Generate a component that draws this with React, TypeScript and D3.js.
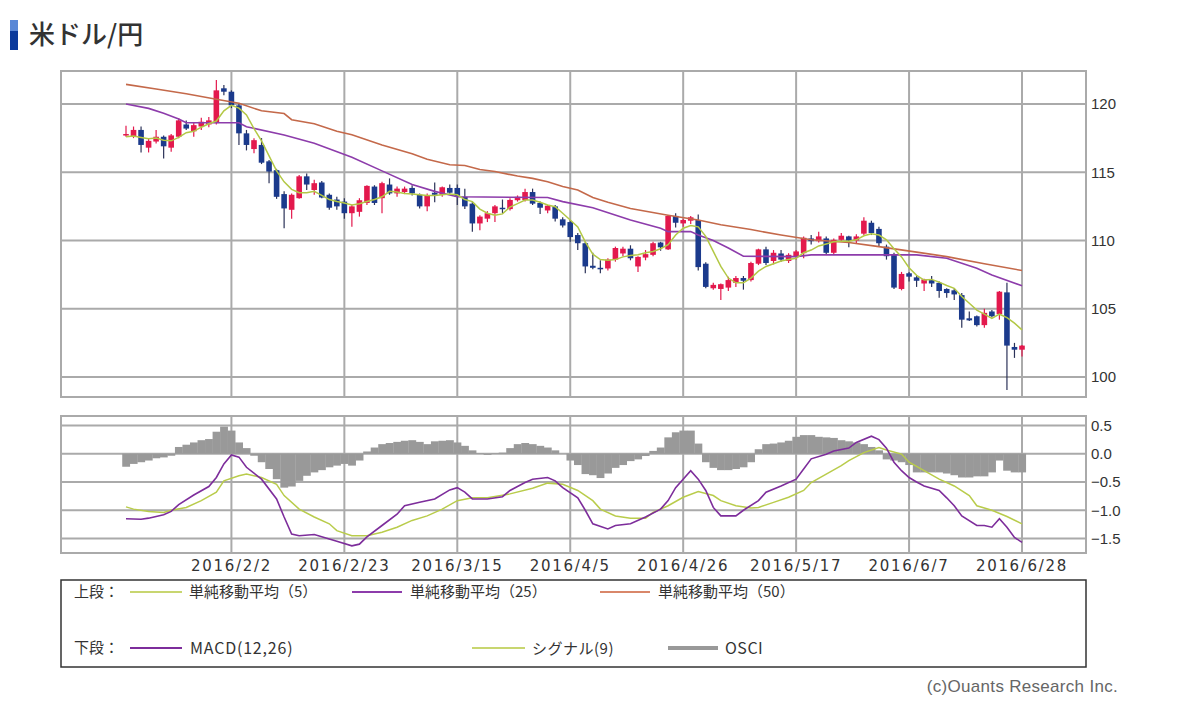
import React from "react";
import * as d3 from "d3";

// USD/JPY daily candles, 2016/1/13 - 2016/6/28 (weekdays)
const opens = [117.7,117.6,118.1,116.8,117.25,117.6,116.8,117.6,118.5,118.0, 118.35,118.5,118.6,121.15,120.9,119.9,117.85,116.7,117.0,115.8, 115.15,113.4,112.25,113.1,114.7,113.7,114.25,113.35,113.0,112.85, 112.0,112.1,112.75,113.95,113.1,114.1,113.45,113.55,113.85,113.35, 112.5,113.5,113.35,113.85,113.85,113.2,112.7,111.25,111.6,112.0, 112.4,112.3,112.95,112.97,113.55,112.75,112.2,112.5,111.55,111.35, 110.4,109.8,108.15,108.0,107.95,108.6,109.05,109.4,108.1,108.75, 108.95,109.85,109.35,111.8,111.25,111.45,111.5,108.3,106.5,106.45, 106.55,106.9,107.25,107.1,108.3,109.35,108.5,109.05,108.5,108.85, 109.07,110.15,109.95,110.15,109.1,110.05,110.3,110.0,110.5,111.3, 110.85,109.55,109.0,106.45,107.6,107.3,106.85,107.1,106.9,106.45, 106.35,106.0,104.3,104.45,103.8,104.8,104.6,106.2,102.2,102.0];
const highs = [118.4,118.35,118.35,117.5,118.1,117.7,117.8,118.95,118.8,118.6, 119.0,119.05,121.75,121.4,121.0,120.05,118.1,117.5,117.5,115.9, 115.25,113.6,113.45,114.8,114.9,114.45,114.35,113.45,113.2,113.1, 112.6,113.1,114.05,114.05,114.3,114.55,113.95,113.95,114.05,113.45, 113.45,114.25,113.95,114.1,114.1,113.8,112.85,111.85,112.15,112.6, 113.0,113.1,113.3,113.8,113.8,112.85,112.6,112.6,111.7,111.5, 110.55,109.9,109.1,108.55,108.7,109.55,109.55,109.65,108.85,109.3, 109.9,109.9,111.85,112.0,111.6,111.8,111.9,108.4,106.9,106.85, 107.35,107.4,107.4,108.45,109.4,109.55,109.3,109.3,109.07,109.3, 110.3,110.4,110.65,110.3,110.15,110.55,110.35,110.45,111.7,111.45, 111.0,109.7,109.1,107.7,107.7,107.4,107.2,107.4,107.0,106.5, 106.5,106.15,104.8,104.5,105.0,104.9,106.3,106.9,102.5,102.35];
const lows = [117.6,117.5,116.45,116.45,117.1,116.0,116.5,117.5,118.1,117.6, 118.1,118.3,118.5,120.65,119.7,117.0,116.6,116.4,115.6,114.2, 113.05,110.9,111.6,113.05,113.7,113.35,113.1,112.25,112.25,111.6, 111.0,111.75,112.6,112.6,112.0,113.35,113.2,113.4,113.3,112.35, 112.15,112.8,113.2,113.4,112.6,112.3,110.65,110.75,111.35,111.35, 112.0,112.2,112.85,112.85,112.6,111.95,112.0,111.4,110.95,109.9, 109.3,107.6,107.9,107.6,107.8,108.45,108.85,108.55,107.7,108.55, 108.85,109.25,109.3,110.95,111.0,111.2,107.8,106.5,106.4,105.65, 106.3,106.6,106.4,107.0,108.2,108.2,108.25,108.45,108.35,108.6, 108.7,109.7,109.85,108.95,108.95,109.95,109.5,109.75,110.4,110.4, 109.6,108.6,106.45,106.35,107.0,106.6,106.3,106.6,105.8,105.8, 105.65,103.6,104.1,103.7,103.6,104.35,104.2,99.05,101.4,101.5];
const closes = [117.8,118.1,117.0,117.3,117.6,116.9,117.7,118.8,118.2,118.45, 118.7,118.8,121.0,120.9,119.9,117.85,117.0,117.35,115.7,115.05, 113.2,112.35,113.35,114.7,114.1,114.2,113.15,112.4,112.5,112.0, 112.5,112.95,114.0,112.75,114.2,113.45,113.8,113.8,113.45,112.5, 113.3,113.35,113.9,113.5,113.2,112.5,111.25,111.75,112.0,112.5, 112.3,112.97,113.2,113.55,112.7,112.4,112.55,111.6,111.1,110.25, 109.8,108.1,108.0,107.95,108.6,109.45,109.4,108.7,108.8,109.0, 109.8,109.5,111.8,111.3,111.5,111.7,108.05,106.6,106.75,106.8, 107.1,107.25,107.05,108.35,109.35,108.35,109.1,108.6,108.95,109.2, 110.2,109.95,110.3,109.1,110.05,110.35,110.0,110.3,111.45,110.55, 109.8,108.85,106.55,107.55,107.35,107.05,107.15,106.85,106.3,106.15, 106.05,104.2,104.15,103.8,104.7,104.45,106.25,102.3,102.0,102.3];

// moving averages (upper panel)
const ma5 = [117.6,117.65,117.55,117.45,117.5,117.35,117.3,117.55,117.9,118.0, 118.3,118.55,118.75,119.5,119.9,119.7,119.2,118.2,117.3,116.2, 115.1,114.3,113.75,113.5,113.5,113.6,113.3,113.0,112.85,112.75, 112.6,112.7,112.85,113.0,113.2,113.6,113.55,113.45,113.4,113.35, 113.3,113.3,113.35,113.4,113.35,113.0,112.85,112.3,112.0,111.85, 111.95,112.45,112.7,112.97,112.97,112.8,112.6,112.48,112.0,111.5, 111.0,109.9,109.0,108.6,108.55,108.6,108.8,108.9,108.95,109.1, 109.2,109.4,109.7,110.4,110.9,111.1,111.0,110.3,109.2,108.1, 107.25,106.9,106.9,107.25,107.75,108.1,108.3,108.5,108.6,108.7, 109.1,109.3,109.6,109.75,109.9,109.95,109.95,110.05,110.35,110.5, 110.4,110.05,109.4,108.8,108.0,107.45,107.1,107.15,106.95,106.7, 106.5,105.9,105.4,104.9,104.6,104.3,104.6,104.35,103.95,103.45];
const ma25Idx = [0,3,5,7,8,15,16,21,25,30,34,38,41,44,56,58,62,67,71,72,75,76,78,80,82,89,91,105,109,111,113,115,119];
const ma25Val = [120.0,119.68,119.32,118.9,118.63,118.63,118.34,117.73,117.12,116.1,115.1,114.1,113.6,113.2,113.15,112.85,112.4,111.5,110.9,110.65,110.65,110.4,110.0,109.45,108.85,108.82,108.95,108.95,108.7,108.34,107.97,107.48,106.68];
const ma50Idx = [0,4,8,12,15,18,21,22,25,28,30,34,38,40,43,45,47,49,52,54,56,58,60,62,64,67,72,76,79,83,87,91,96,100,105,109,114,119];
const ma50Val = [121.44,121.1,120.75,120.35,120.05,119.5,119.3,118.85,118.55,118.0,117.75,117.0,116.35,115.95,115.55,115.5,115.2,115.05,114.72,114.55,114.3,113.95,113.7,113.15,112.8,112.35,111.85,111.5,111.15,110.8,110.4,110.05,109.85,109.55,109.15,108.82,108.3,107.8];

// MACD panel
const macdIdx = [0,2,3,5,6,7,9,11,12,13,14,15,16,18,20,21,22,23,25,27,28,30,31,32,34,36,37,39,41,43,44,45,46,48,50,51,53,54,56,57,58,60,61,62,64,65,67,69,71,72,73,75,76,77,78,79,81,82,84,85,87,89,90,91,93,94,96,97,99,100,101,102,103,104,105,106,108,109,110,111,113,114,115,116,117,118,119];
const macdVal = [-1.15,-1.16,-1.14,-1.08,-1.02,-0.9,-0.73,-0.58,-0.42,-0.18,-0.02,-0.06,-0.24,-0.45,-0.8,-1.12,-1.42,-1.45,-1.43,-1.51,-1.55,-1.63,-1.6,-1.47,-1.27,-1.07,-0.92,-0.86,-0.8,-0.64,-0.6,-0.68,-0.8,-0.8,-0.76,-0.65,-0.51,-0.45,-0.42,-0.48,-0.6,-0.78,-1.0,-1.24,-1.33,-1.27,-1.24,-1.12,-0.98,-0.83,-0.6,-0.3,-0.45,-0.65,-0.95,-1.1,-1.1,-1.0,-0.83,-0.68,-0.57,-0.45,-0.27,-0.09,-0.01,0.05,0.1,0.2,0.31,0.25,0.1,-0.15,-0.3,-0.42,-0.5,-0.57,-0.65,-0.78,-0.92,-1.1,-1.27,-1.27,-1.3,-1.15,-1.3,-1.48,-1.57];
const signalIdx = [0,1,3,5,6,8,10,12,13,15,16,18,20,21,23,25,27,28,30,32,34,36,38,40,42,44,46,48,51,54,56,58,60,62,63,65,67,69,70,72,74,76,78,79,81,83,84,86,88,90,91,93,95,96,98,100,101,103,104,106,108,110,112,113,115,117,119];
const signalVal = [-0.94,-0.98,-1.02,-1.04,-1.0,-0.95,-0.83,-0.68,-0.48,-0.39,-0.36,-0.42,-0.54,-0.74,-0.98,-1.12,-1.24,-1.36,-1.45,-1.45,-1.39,-1.3,-1.18,-1.1,-0.98,-0.83,-0.78,-0.78,-0.71,-0.61,-0.52,-0.54,-0.65,-0.83,-0.98,-1.1,-1.14,-1.14,-1.04,-0.92,-0.77,-0.67,-0.74,-0.83,-0.92,-0.96,-0.95,-0.86,-0.77,-0.65,-0.51,-0.36,-0.21,-0.12,0.02,0.11,0.065,-0.006,-0.15,-0.3,-0.45,-0.57,-0.74,-0.92,-1.0,-1.11,-1.24];
const osci = [-0.23,-0.18,-0.15,-0.12,-0.08,-0.065,-0.035,0.12,0.16,0.2, 0.24,0.26,0.39,0.48,0.41,0.2,0.1,-0.035,-0.15,-0.27, -0.45,-0.6,-0.58,-0.48,-0.39,-0.33,-0.29,-0.24,-0.21,-0.18, -0.21,-0.12,0.04,0.11,0.17,0.19,0.21,0.23,0.24,0.21, 0.17,0.22,0.23,0.24,0.2,0.14,0.06,0.01,-0.02,0.01, 0.02,0.1,0.17,0.19,0.17,0.14,0.11,0.06,0.0,-0.12, -0.2,-0.36,-0.38,-0.43,-0.35,-0.25,-0.2,-0.13,-0.1,-0.04, 0.05,0.11,0.29,0.38,0.41,0.41,0.18,-0.15,-0.25,-0.29, -0.29,-0.27,-0.24,-0.15,0.08,0.17,0.18,0.2,0.23,0.3, 0.33,0.33,0.3,0.29,0.28,0.24,0.22,0.2,0.17,0.12, 0.06,-0.1,-0.12,-0.15,-0.2,-0.33,-0.33,-0.33,-0.33,-0.35, -0.38,-0.42,-0.42,-0.4,-0.4,-0.33,-0.12,-0.3,-0.33,-0.33];

const tickLabels = ["2016/2/2", "2016/2/23", "2016/3/15", "2016/4/5", "2016/4/26", "2016/5/17", "2016/6/7", "2016/6/28"];
const priceTicks = [100, 105, 110, 115, 120];
const macdTicks = [0.5, 0, -0.5, -1, -1.5];

const dates = d3.timeDay
  .range(new Date(2016, 0, 13), new Date(2016, 5, 29))
  .filter(d => d.getDay() !== 0 && d.getDay() !== 6);
const fmt = d3.timeFormat("%Y/%-m/%-d");

const up = { left: 61, right: 1086, top: 71, bottom: 397 };
const lo = { left: 61, right: 1086, top: 416, bottom: 553 };
const gridColor = "#aaaaaa";
const colUp = "#e3194d";
const colDown = "#1b3a8c";

export default function App() {
  const x = d3.scaleLinear().domain([0, dates.length - 1]).range([126, 1022]);
  const step = x(1) - x(0);
  const yP = d3.scaleLinear().domain([100, 120]).range([377, 104]);
  const yM = d3.scaleLinear().domain([-1.5, 0.5]).range([538.5, 425.5]);
  const tickIdx = dates.map((d, i) => (tickLabels.includes(fmt(d)) ? i : -1)).filter(i => i >= 0);

  const pLine = d3.line<[number, number]>().x(d => x(d[0])).y(d => yP(d[1]));
  const mLine = d3.line<[number, number]>().x(d => x(d[0])).y(d => yM(d[1]));
  const zip = (idx: number[], val: number[]) => idx.map((k, j) => [k, val[j]] as [number, number]);

  const font = "'Liberation Sans', Arial, sans-serif";
  const jp = "'Noto Sans CJK JP', sans-serif";

  return (
    <svg width={1200} height={702} style={{ position: "absolute", left: 0, top: 0, background: "#fff" }}>
      {/* title */}
      <rect x={10} y={20} width={8} height={11} fill="#5a88d6" />
      <rect x={10} y={31} width={8} height={19} fill="#0b3a9c" />
      <text x={29} y={44} fontFamily={jp} fontSize={26} fontWeight={500} fill="#333">米ドル/円</text>

      {/* upper panel grid */}
      <rect x={up.left} y={up.top} width={up.right - up.left} height={up.bottom - up.top} fill="#fff" />
      {priceTicks.map(t => (
        <g key={"p" + t}>
          <line x1={up.left} x2={up.right} y1={yP(t)} y2={yP(t)} stroke={gridColor} strokeWidth={2} />
          <text x={1091} y={yP(t)} dy="0.36em" fontFamily={font} fontSize={15} fill="#333">{t}</text>
        </g>
      ))}
      {tickIdx.map(i => (
        <line key={"vu" + i} x1={x(i)} x2={x(i)} y1={up.top} y2={up.bottom} stroke={gridColor} strokeWidth={2} />
      ))}

      {/* candles */}
      {closes.map((c, i) => {
        const o = opens[i];
        const isUp = c >= o;
        const col = isUp ? colUp : colDown;
        const top = yP(Math.max(o, c));
        const h = Math.max(1.5, yP(Math.min(o, c)) - top);
        return (
          <g key={"c" + i}>
            <line x1={x(i)} x2={x(i)} y1={yP(highs[i])} y2={yP(lows[i])} stroke={isUp ? colUp : "#2b3258"} strokeWidth={1.2} />
            <rect x={x(i) - 2.8} y={top} width={5.6} height={h} fill={col} />
          </g>
        );
      })}

      {/* moving averages */}
      <path d={pLine(zip(ma50Idx, ma50Val)) || ""} fill="none" stroke="#c4694a" strokeWidth={1.6} />
      <path d={pLine(zip(ma25Idx, ma25Val)) || ""} fill="none" stroke="#8d3cab" strokeWidth={1.6} />
      <path d={pLine(ma5.map((v, i) => [i, v] as [number, number])) || ""} fill="none" stroke="#b3c845" strokeWidth={1.5} />
      <rect x={up.left} y={up.top} width={up.right - up.left} height={up.bottom - up.top} fill="none" stroke={gridColor} strokeWidth={2} />

      {/* lower panel */}
      <rect x={lo.left} y={lo.top} width={lo.right - lo.left} height={lo.bottom - lo.top} fill="#fff" />
      {macdTicks.map(t => (
        <g key={"m" + t}>
          <line x1={lo.left} x2={lo.right} y1={yM(t)} y2={yM(t)} stroke={gridColor} strokeWidth={2} />
          <text x={1091} y={yM(t)} dy="0.36em" fontFamily={font} fontSize={15} fill="#333">{d3.format(".1f")(t)}</text>
        </g>
      ))}
      {tickIdx.map(i => (
        <line key={"vl" + i} x1={x(i)} x2={x(i)} y1={lo.top} y2={lo.bottom} stroke={gridColor} strokeWidth={2} />
      ))}
      {osci.map((v, i) => (
        <rect key={"o" + i} x={x(i) - step / 2} width={step + 0.3}
          y={Math.min(yM(v), yM(0))} height={Math.abs(yM(v) - yM(0))} fill="#999999" />
      ))}
      <path d={mLine(zip(signalIdx, signalVal)) || ""} fill="none" stroke="#b9cc4b" strokeWidth={1.5} />
      <path d={mLine(zip(macdIdx, macdVal)) || ""} fill="none" stroke="#7d2d9b" strokeWidth={1.6} />
      <rect x={lo.left} y={lo.top} width={lo.right - lo.left} height={lo.bottom - lo.top} fill="none" stroke={gridColor} strokeWidth={2} />

      {/* x axis labels */}
      {tickIdx.map(i => (
        <text key={"xl" + i} x={x(i)} y={571} textAnchor="middle" fontFamily="'DejaVu Sans', sans-serif"
          fontSize={15} letterSpacing={1.7} fill="#333">{fmt(dates[i])}</text>
      ))}

      {/* legend */}
      <rect x={61} y={580} width={1025} height={87} fill="#fff" stroke="#333" strokeWidth={1.5} />
      <g fontFamily={jp} fontSize={15} fill="#333">
        <text x={74} y={597}>上段：</text>
        <line x1={130} x2={182} y1={592} y2={592} stroke="#c8d670" strokeWidth={2} />
        <text x={189} y={597}>単純移動平均（5）</text>
        <line x1={352} x2={402} y1={592} y2={592} stroke="#8d3cab" strokeWidth={2} />
        <text x={410} y={597}>単純移動平均（25）</text>
        <line x1={600} x2={650} y1={592} y2={592} stroke="#d9876a" strokeWidth={2} />
        <text x={658} y={597}>単純移動平均（50）</text>

        <text x={74} y={653}>下段：</text>
        <line x1={130} x2={182} y1={648} y2={648} stroke="#7d2d9b" strokeWidth={2} />
        <text x={190} y={654} fontSize={16} letterSpacing={0.8}>MACD(12,26)</text>
        <line x1={472} x2={525} y1={648} y2={648} stroke="#c8d670" strokeWidth={2} />
        <text x={532} y={654} letterSpacing={0.5}>シグナル(9)</text>
        <line x1={668} x2={718} y1={648} y2={648} stroke="#999999" strokeWidth={4} />
        <text x={725} y={654} fontSize={16} letterSpacing={0.5}>OSCI</text>
      </g>

      <text x={1118} y={692} textAnchor="end" fontFamily={font} fontSize={17} letterSpacing={0.3} fill="#666">(c)Ouants Research Inc.</text>
    </svg>
  );
}
